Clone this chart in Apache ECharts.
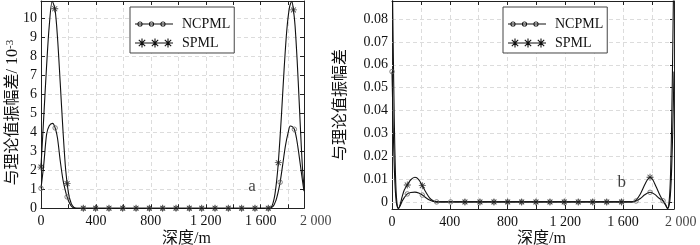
<!DOCTYPE html>
<html><head><meta charset="utf-8">
<script src="https://cdn.jsdelivr.net/npm/echarts@6/dist/echarts.min.js"></script>
<style>html,body{margin:0;padding:0;background:#fff}#c{width:700px;height:245px}</style>
</head><body><div id="c"></div>
<script>
// ---------------- data ----------------
const xLabelTicks = [0, 400, 800, 1200, 1600, 2000];
const yTicksA = [0, 1, 2, 3, 4, 5, 6, 7, 8, 9, 10];
const yTicksB = [0, 0.01, 0.02, 0.03, 0.04, 0.05, 0.06, 0.07, 0.08];
const seriesNames = ['NCPML', 'SPML'];

// panel a (unit 1e-3)
const aNcX = [0, 20, 41, 60, 85, 103, 120, 140, 160, 180, 190, 200, 220, 240, 260, 300, 1600, 1660, 1690, 1710, 1725, 1741, 1760, 1780, 1800, 1815, 1830, 1845, 1860, 1875, 1890, 1905, 1915];
const aNcY = [1.05, 2.3, 3.9, 4.35, 4.47, 4.23, 3.7, 2.5, 1.5, 0.85, 0.6, 0.4, 0.12, 0.02, 0, 0, 0, 0, 0.1, 0.4, 0.8, 1.37, 2.3, 3.3, 4.0, 4.33, 4.3, 4.16, 3.7, 3.0, 2.2, 1.4, 0.9];
const aSpX = [0, 20, 40, 60, 82, 102, 120, 140, 160, 180, 200, 220, 240, 260, 300, 1600, 1655, 1680, 1700, 1715, 1728, 1750, 1770, 1790, 1810, 1826, 1838, 1850, 1865, 1880, 1895, 1905, 1915];
const aSpY = [2.2, 4.8, 7.4, 9.6, 10.9, 10.47, 9.0, 6.6, 4.1, 2.0, 0.8, 0.25, 0.05, 0, 0, 0, 0, 0.1, 0.6, 1.4, 2.4, 4.8, 7.3, 9.4, 10.6, 10.9, 10.44, 9.6, 7.8, 5.6, 3.3, 2.0, 1.1];
const aNcMarkX = [0, 103, 190, 308, 398, 495, 595, 692, 789, 886, 983, 1080, 1170, 1267, 1364, 1461, 1558, 1655, 1741, 1845];
const aNcMarkY = [1.05, 4.23, 0.6, 0, 0, 0, 0, 0, 0, 0, 0, 0, 0, 0, 0, 0, 0, 0, 1.37, 4.16];
const aSpMarkX = [0, 100, 190, 308, 398, 495, 595, 692, 789, 886, 983, 1080, 1170, 1267, 1364, 1461, 1558, 1655, 1728, 1838];
const aSpMarkY = [2.17, 10.5, 1.3, 0, 0, 0, 0, 0, 0, 0, 0, 0, 0, 0, 0, 0, 0, 0, 2.4, 10.44];

// panel b
const bNcX = [0, 8, 16, 24, 32, 44, 56, 70, 85, 106, 130, 159, 185, 210, 235, 260, 285, 309, 400, 1590, 1660, 1690, 1720, 1750, 1787, 1820, 1850, 1877, 1895, 1909, 1921, 1929, 1937, 1945, 1953];
const bNcY = [0.057, 0.033, 0.015, 0.004, -0.001, -0.0028, -0.0018, 0.0003, 0.0019, 0.0035, 0.0041, 0.0043, 0.0039, 0.003, 0.0018, 0.0008, 0.0002, 0, 0, 0, 0, 0.0004, 0.0015, 0.0031, 0.0042, 0.0033, 0.0016, 0.0005, -0.0012, -0.0028, -0.001, 0.004, 0.015, 0.033, 0.057];
const bSpX = [0, 8, 16, 24, 32, 44, 56, 70, 85, 106, 130, 159, 185, 210, 235, 260, 285, 309, 400, 1590, 1660, 1690, 1720, 1750, 1770, 1787, 1805, 1830, 1855, 1877, 1895, 1909, 1921, 1929, 1937, 1945, 1953];
const bSpY = [0.11, 0.07, 0.035, 0.012, 0.001, -0.003, -0.0012, 0.0022, 0.0052, 0.0074, 0.0097, 0.0108, 0.0098, 0.0071, 0.0042, 0.0018, 0.0005, 0, 0, 0, 0, 0.0008, 0.0035, 0.0075, 0.0098, 0.0108, 0.0098, 0.0065, 0.003, 0.0005, -0.0015, -0.003, 0.0015, 0.012, 0.035, 0.07, 0.11];
const bNcMarkX = [0, 106, 210, 309, 406, 505, 609, 706, 801, 898, 997, 1094, 1193, 1290, 1390, 1487, 1590, 1690, 1787, 1877];
const bNcMarkY = [0.057, 0.0035, 0.003, 0, 0, 0, 0, 0, 0, 0, 0, 0, 0, 0, 0, 0, 0, 0.0004, 0.0042, 0.0005];
const bSpMarkX = [106, 210, 505, 609, 706, 801, 898, 997, 1094, 1193, 1290, 1390, 1487, 1590, 1787];
const bSpMarkY = [0.0074, 0.0071, 0, 0, 0, 0, 0, 0, 0, 0, 0, 0, 0, 0, 0.0108];

// annotations (data coordinates)
const aNote = ['a', 1537, 1.12];
const bNote = ['b', 1591, 0.0084];

// axis extents
const aXRange = [0, 1915], aYRange = [0, 10.91];
const bXRange = [0, 1953], bYRange = [-0.0031, 0.0879];

// ---------------- helpers ----------------
const FONT = '"Liberation Serif", "Times New Roman", "Noto Sans CJK SC", serif';
const INK = '#111';
const zip = (xs, ys) => xs.map((x, i) => [x, ys[i]]);
function asterisk(cx, cy, h, w) {
  let d = '';
  for (const deg of [0, 45, 90, 135]) {
    const t = deg * Math.PI / 180, c = Math.cos(t), s = Math.sin(t);
    const p = [[-h, -w], [h, -w], [h, w], [-h, w]].map(([x, y]) => [cx + x * c - y * s, cy + x * s + y * c]);
    d += 'M' + p.map(q => q[0].toFixed(2) + ',' + q[1].toFixed(2)).join('L') + 'Z';
  }
  return d;
}
function ring(cx, cy, r, w) {
  const ri = r - w;
  return `M${cx + r},${cy}A${r},${r} 0 1,1 ${cx - r},${cy}A${r},${r} 0 1,1 ${cx + r},${cy}Z` +
         `M${cx + ri},${cy}A${ri},${ri} 0 1,0 ${cx - ri},${cy}A${ri},${ri} 0 1,0 ${cx + ri},${cy}Z`;
}
const bar = (len, cy) => `M0,${cy - 0.5}L${len},${cy - 0.5}L${len},${cy + 0.5}L0,${cy + 0.5}Z`;
const ncIcon = 'path://' + bar(38, 4.5) + ring(5, 4.5, 2.6, 0.9) + ring(16.5, 4.5, 2.6, 0.9) + ring(28, 4.5, 2.6, 0.9);
const spIcon = 'path://' + bar(38, 4.5) + asterisk(7, 4.5, 4.5, 0.55) + asterisk(20, 4.5, 4.5, 0.55) + asterisk(33, 4.5, 4.5, 0.55);
const starSymbol = 'path://' + asterisk(5, 5, 5, 0.6);

const fmtX = v => {
  if (!xLabelTicks.includes(v)) return '';
  return v >= 1000 ? String(v).replace(/(\d)(\d{3})$/, '$1 $2') : String(v);
};

function xAxes(grid, range) {
  const base = {
    gridIndex: grid, type: 'value', min: range[0], max: range[1], interval: 200,
    axisLine: { show: true, onZero: false, lineStyle: { color: '#222', width: 1 } },
    axisTick: { show: true, inside: true, length: 4, lineStyle: { color: '#222' } },
  };
  return [
    Object.assign({}, base, {
      position: 'bottom',
      axisLabel: { show: true, margin: 6, formatter: fmtX, color: INK, fontFamily: FONT, fontSize: 14, showMaxLabel: false },
      splitLine: { show: true, lineStyle: { type: [4, 3], color: '#dcdcdc', width: 1 } },
      name: '深度/m', nameLocation: 'middle', nameGap: 22, nameMoveOverlap: false,
      nameTextStyle: { color: INK, fontFamily: FONT, fontSize: 16, padding: [0, 0, 0, grid === 0 ? 28 : 17] }
    }),
    Object.assign({}, base, { position: 'top', axisLabel: { show: false }, splitLine: { show: false } })
  ];
}

const option = {
  animation: false,
  backgroundColor: '#fff',
  textStyle: { fontFamily: FONT },
  grid: [
    { left: 41, top: 1, width: 263, height: 207.3, outerBoundsMode: 'none', containLabel: false },
    { left: 392, top: 1, width: 282, height: 208, outerBoundsMode: 'none', containLabel: false }
  ],
  xAxis: [...xAxes(0, aXRange), ...xAxes(1, bXRange)],
  yAxis: [
    {
      gridIndex: 0, type: 'value', min: aYRange[0], max: aYRange[1], interval: 1, position: 'left',
      axisLine: { show: true, onZero: false, lineStyle: { color: '#222' } },
      axisTick: { show: true, inside: true, length: 4, lineStyle: { color: '#222' } },
      axisLabel: { margin: 4, color: INK, fontFamily: FONT, fontSize: 14, showMaxLabel: false,
        formatter: v => yTicksA.includes(v) ? String(v) : '' },
      splitLine: { show: true, lineStyle: { type: [4, 3], color: '#dcdcdc' } },
      name: '与理论值振幅差/ 10{sup|-3}', nameLocation: 'middle', nameGap: 20, nameMoveOverlap: false,
      nameTextStyle: { color: INK, fontFamily: FONT, fontSize: 16, padding: [0, 16, 0, 0],
        rich: { sup: { fontSize: 11, verticalAlign: 'top', fontFamily: FONT, color: INK } } }
    },
    {
      gridIndex: 0, type: 'value', min: aYRange[0], max: aYRange[1], interval: 1, position: 'right',
      axisLine: { show: true, onZero: false, lineStyle: { color: '#222' } },
      axisTick: { show: true, inside: true, length: 4, lineStyle: { color: '#222' } },
      axisLabel: { show: false }, splitLine: { show: false }
    },
    {
      gridIndex: 1, type: 'value', min: bYRange[0], max: bYRange[1], position: 'left',
      axisLine: { show: true, onZero: false, lineStyle: { color: '#222' } },
      axisTick: { show: true, inside: true, length: 4, customValues: yTicksB, lineStyle: { color: '#222' } },
      axisLabel: { margin: 4, color: INK, fontFamily: FONT, fontSize: 14, customValues: yTicksB,
        formatter: v => Math.abs(v) < 1e-9 ? '0' : v.toFixed(2) },
      splitLine: { show: false },
      name: '与理论值振幅差', nameLocation: 'middle', nameGap: 43, nameMoveOverlap: false,
      nameTextStyle: { color: INK, fontFamily: FONT, fontSize: 16 }
    },
    {
      gridIndex: 1, type: 'value', min: bYRange[0], max: bYRange[1], position: 'right',
      axisLine: { show: true, onZero: false, lineStyle: { color: '#222' } },
      axisTick: { show: true, inside: true, length: 4, customValues: yTicksB, lineStyle: { color: '#222' } },
      axisLabel: { show: false }, splitLine: { show: false }
    }
  ],
  legend: [130, 503].map(left => ({
    left, top: 7, orient: 'vertical', selectedMode: false,
    data: [{ name: seriesNames[0], icon: ncIcon }, { name: seriesNames[1], icon: spIcon }],
    itemWidth: 38, itemHeight: 9, itemGap: 5, padding: [10, 4, 3, 5],
    borderColor: '#444', borderWidth: 1, backgroundColor: '#fff',
    itemStyle: { color: INK, borderWidth: 0 },
    textStyle: { color: INK, fontFamily: FONT, fontSize: 14, padding: [0, 0, 0, 4] }
  })),
  series: []
};

function curve(name, xi, yi, data) {
  return { name, type: 'line', xAxisIndex: xi, yAxisIndex: yi, data, symbol: 'none', smooth: 0.3,
    lineStyle: { color: INK, width: 1.1 }, itemStyle: { color: INK }, z: 3, silent: true };
}
function marks(name, xi, yi, data, isStar) {
  return { name, type: 'scatter', xAxisIndex: xi, yAxisIndex: yi, data, silent: true, z: 4,
    symbol: isStar ? starSymbol : 'circle', symbolSize: isStar ? 7 : 4.5,
    itemStyle: isStar ? { color: '#1a1a1a' } : { color: 'rgba(255,255,255,0)', borderColor: '#666', borderWidth: 1 } };
}
function note(xi, yi, n) {
  return { type: 'scatter', xAxisIndex: xi, yAxisIndex: yi, data: [[n[1], n[2]]], symbolSize: 0, silent: true,
    label: { show: true, position: 'inside', formatter: n[0], color: INK, fontFamily: FONT, fontSize: 17 } };
}
function edgeLabel(xi, yi, y) {
  return { type: 'scatter', xAxisIndex: xi, yAxisIndex: yi, data: [[2000, y]], symbolSize: 0, silent: true, clip: false,
    label: { show: true, position: 'bottom', distance: 6, formatter: fmtX(2000), color: INK, fontFamily: FONT, fontSize: 14 } };
}

option.series.push(
  curve('NCPML', 0, 0, zip(aNcX, aNcY)),
  curve('SPML', 0, 0, zip(aSpX, aSpY)),
  marks('NCPML', 0, 0, zip(aNcMarkX, aNcMarkY), false),
  marks('SPML', 0, 0, zip(aSpMarkX, aSpMarkY), true),
  Object.assign(curve('NCPML', 2, 2, zip(bNcX, bNcY)), {
    markLine: { silent: true, symbol: ['none', 'none'], z: 1, label: { show: false },
      lineStyle: { type: [4, 3], color: '#dcdcdc', width: 1 }, emphasis: { disabled: true },
      data: yTicksB.map(v => ({ yAxis: v })) }
  }),
  curve('SPML', 2, 2, zip(bSpX, bSpY)),
  marks('NCPML', 2, 2, zip(bNcMarkX, bNcMarkY), false),
  marks('SPML', 2, 2, zip(bSpMarkX, bSpMarkY), true),
  note(0, 0, aNote),
  note(2, 2, bNote),
  edgeLabel(0, 0, aYRange[0]),
  edgeLabel(2, 2, bYRange[0])
);

const chart = echarts.init(document.getElementById('c'), null, { renderer: 'canvas' });
chart.setOption(option);
</script>
</body></html>
